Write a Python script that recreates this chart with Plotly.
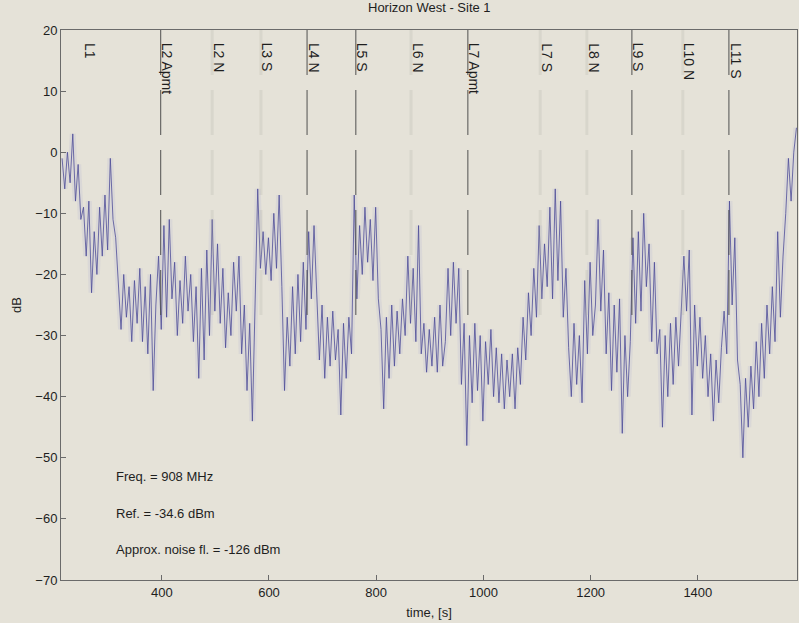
import numpy as np
import plotly.graph_objects as go

# Received level, dB, sampled every 5 s starting at t = 214 s
T0 = 214
DT = 5
level_db = [
    -1, -6, 0, -5, 3, -8, -2, -11, -9, -17,
    -8, -23, -13, -20, -9, -17, -7, -16, -1, -11,
    -14, -21, -29, -20, -27, -22, -31, -21, -28, -19,
    -31, -22, -33, -20, -39, -25, -17, -29, -12, -27,
    -11, -24, -18, -30, -21, -28, -17, -26, -20, -31,
    -22, -37, -19, -34, -16, -30, -11, -26, -15, -28,
    -19, -32, -23, -30, -18, -26, -17, -33, -25, -39,
    -28, -44, -27, -6, -19, -13, -20, -14, -21, -10,
    -19, -7, -22, -39, -27, -35, -22, -33, -20, -31,
    -18, -29, -13, -24, -12, -22, -34, -25, -37, -27,
    -35, -26, -34, -29, -43, -28, -37, -27, -33, -7,
    -24, -12, -20, -9, -18, -11, -21, -9, -24, -29,
    -42, -27, -37, -25, -35, -26, -33, -24, -30, -17,
    -28, -19, -31, -12, -33, -28, -36, -29, -35, -27,
    -36, -25, -35, -31, -19, -30, -18, -28, -19, -38,
    -28, -48, -30, -41, -28, -39, -30, -44, -31, -38,
    -29, -40, -32, -41, -33, -42, -34, -40, -33, -42,
    -32, -38, -27, -34, -23, -30, -19, -27, -12, -24,
    -15, -22, -9, -24, -6, -21, -8, -27, -19, -32,
    -40, -28, -38, -30, -41, -21, -33, -18, -30, -25,
    -11, -26, -16, -33, -23, -39, -25, -36, -24, -46,
    -30, -40, -31, -14, -28, -13, -26, -10, -22, -15,
    -31, -18, -33, -29, -45, -30, -40, -28, -38, -27,
    -35, -26, -17, -26, -16, -43, -25, -35, -27, -37,
    -30, -40, -33, -44, -34, -41, -32, -26, -33, -8,
    -25, -14, -34, -38, -50, -37, -45, -35, -42, -31,
    -40, -28, -37, -25, -33, -22, -31, -13, -27, -17,
    -10, -1, -8, 0, 4,
]
time_s = T0 + DT * np.arange(len(level_db))

# Event markers: label, time of the marker line [s], line style
event_names = ["L1", "L2 Apmt", "L2 N", "L3 S", "L4 N", "L5 S", "L6 N",
               "L7 Apmt", "L7 S", "L8 N", "L9 S", "L10 N", "L11 S"]
event_times = [253, 398, 494, 585, 671, 762, 865, 971, 1106, 1193, 1277, 1372, 1458]
event_style = ["none", "dark", "faint", "faint", "dark", "dark", "faint",
               "dark", "faint", "faint", "dark", "faint", "dark"]

info_lines = ["Freq. = 908 MHz", "Ref. = -34.6 dBm", "Approx. noise fl. = -126 dBm"]
info_y = [-53, -59.1, -65]
info_x = 311

x_range = [212, 1585]
y_range = [-70, 20]
x_ticks = [400, 600, 800, 1000, 1200, 1400]
y_ticks = [-70, -60, -50, -40, -30, -20, -10, 0, 10, 20]

PAPER = "#e5e2d8"
INK = "#1e1e1e"
FONT = "Liberation Sans, Arial, sans-serif"

fig = go.Figure()

# soft halo around the trace
fig.add_trace(go.Scatter(
    x=time_s, y=level_db, mode="lines",
    line=dict(color="rgba(130,130,205,0.10)", width=6),
    hoverinfo="skip", showlegend=False,
))
fig.add_trace(go.Scatter(
    x=time_s, y=level_db, mode="lines",
    line=dict(color="rgb(78,76,152)", width=0.8),
    showlegend=False,
))

shapes = []
annotations = []
for name, t, style in zip(event_names, event_times, event_style):
    if style == "dark":
        shapes.append(dict(type="line", xref="x", yref="y", x0=t, x1=t, y0=20, y1=-28,
                           line=dict(color="#505050", width=1, dash="45px,15px")))
    elif style == "faint":
        shapes.append(dict(type="line", xref="x", yref="y", x0=t, x1=t, y0=20, y1=-28,
                           line=dict(color="rgba(175,172,164,0.22)", width=3, dash="45px,15px")))
    annotations.append(dict(
        x=t, y=18.2, xref="x", yref="y", text=name, textangle=90,
        showarrow=False, xanchor="center", yanchor="top", xshift=7,
        font=dict(family=FONT, size=14, color=INK),
    ))

for txt, yv in zip(info_lines, info_y):
    annotations.append(dict(
        x=info_x, y=yv, xref="x", yref="y", text=txt, showarrow=False,
        xanchor="left", yanchor="middle",
        font=dict(family=FONT, size=13, color=INK),
    ))

annotations.append(dict(
    x=0.5, y=1, xref="paper", yref="paper", text="Horizon West - Site 1",
    showarrow=False, xanchor="center", yanchor="bottom", yshift=13,
    font=dict(family=FONT, size=13, color=INK),
))

axis_common = dict(
    showgrid=False, zeroline=False, showline=True, mirror=True,
    linecolor="#6a6a6a", linewidth=1, ticks="inside", ticklen=5,
    tickcolor="#6a6a6a", tickfont=dict(family=FONT, size=13, color=INK),
)

fig.update_layout(
    width=799, height=623,
    margin=dict(l=61, r=2, t=30, b=43),
    paper_bgcolor=PAPER, plot_bgcolor=PAPER,
    shapes=shapes, annotations=annotations,
    xaxis=dict(range=x_range, tickvals=x_ticks, **axis_common,
               title=dict(text="time, [s]", font=dict(family=FONT, size=13, color=INK), standoff=9)),
    yaxis=dict(range=y_range, tickvals=y_ticks, **axis_common,
               title=dict(text="dB", font=dict(family=FONT, size=13, color=INK), standoff=10)),
)

fig.write_html("out.html")
